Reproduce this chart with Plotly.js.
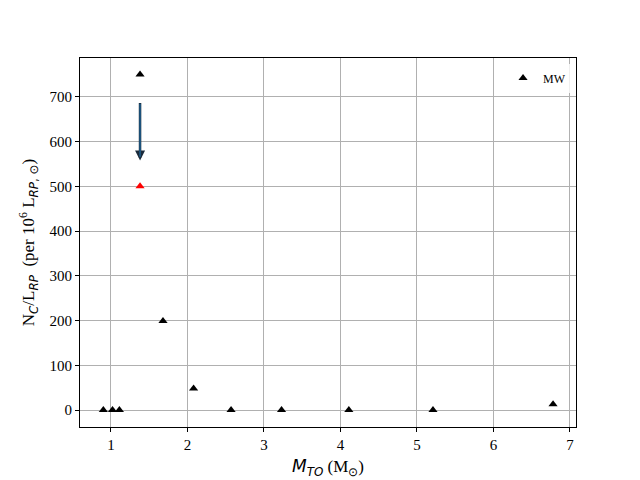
<!DOCTYPE html>
<html>
<head>
<meta charset="utf-8">
<script src="https://cdn.plot.ly/plotly-3.0.1.min.js"></script>
<style>
  body { margin: 0; background: #fff; }
  #chart { width: 640px; height: 480px; }
</style>
</head>
<body>
<div id="chart"></div>
<script>
// MW clusters: turnoff mass vs carbon star count per luminosity
var mTO = [0.90, 1.02, 1.11, 1.38, 1.68, 2.08, 2.57, 3.23, 4.11, 5.21, 6.78];
var ncPerL = [0, 0, 0, 750, 199, 48, 0, 0, 0, 0, 13];

// corrected point (red) and the arrow between old and new value
var redX = [1.38];
var redY = [500];
var arrowFrom = 690;
var arrowTo = 558;

var serif = '"Liberation Serif", "Times New Roman", serif';

var traceMW = {
    type: 'scatter',
    mode: 'markers',
    name: 'MW',
    x: mTO,
    y: ncPerL,
    marker: { symbol: 'triangle-up', size: 8, color: 'black' }
};

var traceRed = {
    type: 'scatter',
    mode: 'markers',
    showlegend: false,
    x: redX,
    y: redY,
    marker: { symbol: 'triangle-up', size: 8, color: 'red' }
};

var axisCommon = {
    showgrid: true,
    gridcolor: '#b0b0b0',
    gridwidth: 1,
    zeroline: false,
    showline: true,
    linecolor: 'black',
    linewidth: 1,
    mirror: true,
    ticks: 'outside',
    ticklen: 4,
    tickcolor: 'black',
    tickfont: { family: serif, size: 15, color: 'black' }
};

var layout = {
    width: 640,
    height: 480,
    paper_bgcolor: 'white',
    plot_bgcolor: 'white',
    margin: { l: 80, r: 64, t: 58, b: 53 },
    showlegend: true,
    legend: {
        x: 0.99, y: 0.985, xanchor: 'right', yanchor: 'top',
        bgcolor: 'rgba(255,255,255,0.8)',
        font: { family: serif, size: 12, color: 'black' }
    },
    xaxis: Object.assign({}, axisCommon, {
        range: [0.595, 7.08],
        dtick: 1,
        title: {
            text: '<span style="font-family:DejaVu Sans"><i>M</i><sub><i>TO</i></sub></span> (M<sub>⊙</sub>)',
            font: { family: serif, size: 17, color: 'black' },
            standoff: 8
        }
    }),
    yaxis: Object.assign({}, axisCommon, {
        range: [-38, 787],
        dtick: 100,
        title: {
            text: 'N<sub><span style="font-family:DejaVu Sans"><i>C</i></span></sub>/L<sub><span style="font-family:DejaVu Sans"><i>RP</i></span></sub>  (per 10<sup>6</sup> L<sub><span style="font-family:DejaVu Sans"><i>RP</i>, ⊙</span></sub>)',
            font: { family: serif, size: 17, color: 'black' },
            standoff: 10
        }
    }),
    annotations: [
        {
            x: redX[0], y: arrowTo, ax: redX[0], ay: arrowFrom,
            xref: 'x', yref: 'y', axref: 'x', ayref: 'y',
            showarrow: true, arrowhead: 2, arrowsize: 0.8, arrowwidth: 2.5,
            arrowcolor: '#1a2a3a', text: ''
        },
        {
            x: redX[0], y: arrowTo + 8, ax: redX[0], ay: arrowFrom - 2,
            xref: 'x', yref: 'y', axref: 'x', ayref: 'y',
            showarrow: true, arrowhead: 0, arrowwidth: 1,
            arrowcolor: '#1f77b4', text: ''
        }
    ]
};

Plotly.newPlot('chart', [traceMW, traceRed], layout, { displayModeBar: false });
</script>
</body>
</html>
